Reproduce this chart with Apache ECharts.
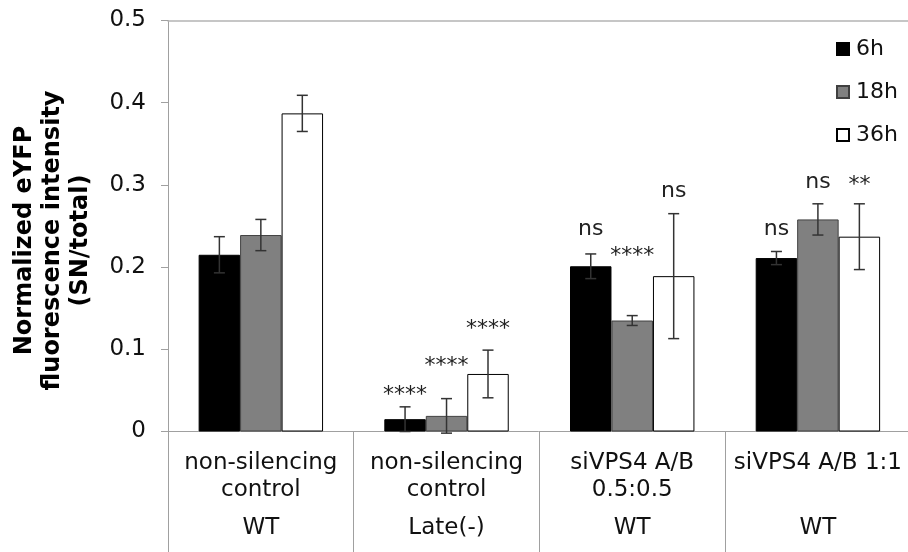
<!DOCTYPE html>
<html>
<head>
<meta charset="utf-8">
<script src="https://cdn.jsdelivr.net/npm/echarts@6/dist/echarts.min.js"></script>
<style>
  html, body { margin: 0; padding: 0; background: #fff; }
  #chart { width: 908px; height: 552px; }
</style>
</head>
<body>
<div id="chart"></div>
<script>
// Condition labels (first level) and cell line groups (second level)
const conditions = ['non-silencing\ncontrol', 'non-silencing\ncontrol', 'siVPS4 A/B\n0.5:0.5', 'siVPS4 A/B 1:1'];
const cellLines = ['WT', 'Late(-)', 'WT', 'WT'];
const timePoints = ['6h', '18h', '36h'];

// Mean normalized eYFP fluorescence (SN/total)
const mean6h  = [0.215, 0.015, 0.201, 0.211];
const mean18h = [0.239, 0.019, 0.135, 0.258];
const mean36h = [0.387, 0.070, 0.189, 0.237];

// Error (± value)
const err6h  = [0.022, 0.015, 0.015, 0.008];
const err18h = [0.019, 0.021, 0.006, 0.019];
const err36h = [0.022, 0.029, 0.076, 0.040];

// Significance marks and the axis height they sit at
const sig6h  = ['', '****', 'ns', 'ns'];
const sig18h = ['', '****', '****', 'ns'];
const sig36h = ['', '****', 'ns', '**'];
const sigAt6h  = [null, 0.044, 0.246, 0.246];
const sigAt18h = [null, 0.079, 0.213, 0.303];
const sigAt36h = [null, 0.124, 0.292, 0.300];

const yTicks = [0, 0.1, 0.2, 0.3, 0.4, 0.5];

const FONT = '"DejaVu Sans", Verdana, sans-serif';
const AXIS_GRAY = '#a0a0a0';
const CAT_GAP = 0.33;

const means = [mean6h, mean18h, mean36h];
const errs = [err6h, err18h, err36h];
const sigs = [sig6h, sig18h, sig36h];
const sigAts = [sigAt6h, sigAt18h, sigAt36h];
const barStyles = [
  { color: '#000000', borderColor: '#000000', borderWidth: 1 },
  { color: '#808080', borderColor: '#404040', borderWidth: 1 },
  { color: '#ffffff', borderColor: '#000000', borderWidth: 1 }
];

function barCenter(api, cat, idx) {
  const catW = api.size([1, 0])[0];
  const barW = catW * (1 - CAT_GAP) / 3;
  return api.coord([cat, 0])[0] + (idx - 1) * barW;
}

function errorBarRenderer(idx) {
  return function (params, api) {
    const cat = api.value(0), v = api.value(1), e = api.value(2);
    const cx = barCenter(api, cat, idx);
    const yHi = api.coord([cat, v + e])[1];
    const yLo = api.coord([cat, v - e])[1];
    const half = 5.5;
    const style = { stroke: '#333333', lineWidth: 1.5 };
    return {
      type: 'group',
      children: [
        { type: 'line', shape: { x1: cx, y1: yHi, x2: cx, y2: yLo }, style: style },
        { type: 'line', shape: { x1: cx - half, y1: yHi, x2: cx + half, y2: yHi }, style: style },
        { type: 'line', shape: { x1: cx - half, y1: yLo, x2: cx + half, y2: yLo }, style: style }
      ]
    };
  };
}

function sigRenderer(idx) {
  return function (params, api) {
    const cat = api.value(0), at = api.value(1);
    const text = sigs[idx][params.dataIndex];
    if (!text) return null;
    const cx = barCenter(api, cat, idx);
    const y = api.coord([cat, at])[1];
    return {
      type: 'text',
      x: cx, y: y,
      style: {
        text: text, fill: '#222', fontSize: 22, fontFamily: FONT,
        align: 'center', verticalAlign: 'middle'
      }
    };
  };
}

const series = [];
timePoints.forEach(function (name, i) {
  series.push({
    name: name,
    type: 'bar',
    data: means[i],
    barGap: '0%',
    barCategoryGap: (CAT_GAP * 100) + '%',
    itemStyle: barStyles[i],
    emphasis: { disabled: true },
    z: 2
  });
});
timePoints.forEach(function (name, i) {
  series.push({
    type: 'custom',
    name: 'err-' + name,
    renderItem: errorBarRenderer(i),
    data: means[i].map(function (v, k) { return [k, v, errs[i][k]]; }),
    z: 3,
    silent: true
  });
  series.push({
    type: 'custom',
    name: 'sig-' + name,
    renderItem: sigRenderer(i),
    data: sigAts[i].map(function (v, k) { return [k, v == null ? 0 : v]; }),
    z: 4,
    silent: true
  });
});

const chart = echarts.init(document.getElementById('chart'), null, { renderer: 'canvas' });
chart.setOption({
  animation: false,
  backgroundColor: '#ffffff',
  textStyle: { fontFamily: FONT },
  grid: {
    left: 168, top: 20.5, width: 742.75, height: 411,
    containLabel: false, outerBoundsMode: 'none'
  },
  legend: {
    data: timePoints,
    orient: 'vertical',
    left: 836,
    top: 38,
    padding: 0,
    itemWidth: 12,
    itemHeight: 12,
    itemGap: 21,
    icon: 'rect',
    selectedMode: false,
    textStyle: { fontSize: 22, color: '#111', fontFamily: FONT, padding: [0, 0, 0, 2] }
  },
  xAxis: [
    {
      type: 'category',
      data: conditions.map(function (c, i) { return { value: c + '|' + i }; }),
      position: 'bottom',
      axisLine: { lineStyle: { color: AXIS_GRAY, width: 1 } },
      axisTick: { show: true, interval: 0, length: 121, alignWithLabel: false, lineStyle: { color: AXIS_GRAY } },
      axisLabel: {
        interval: 0,
        margin: 18,
        formatter: function (val, idx) {
          const lines = conditions[idx].split('\n');
          if (lines.length < 2) lines.push(' ');
          return lines.map(function (l) { return '{a|' + l + '}'; }).join('\n') + '\n{b|' + cellLines[idx] + '}';
        },
        rich: {
          a: { fontSize: 23, lineHeight: 27, color: '#111', fontFamily: FONT, align: 'center' },
          b: { fontSize: 23, lineHeight: 49, color: '#111', fontFamily: FONT, align: 'center' }
        }
      },
      splitLine: { show: false }
    },
    {
      type: 'category',
      data: conditions,
      position: 'top',
      axisLine: { show: true, lineStyle: { color: '#b4b4b4', width: 1.5 } },
      axisTick: { show: false },
      axisLabel: { show: false },
      splitLine: { show: false }
    }
  ],
  yAxis: {
    type: 'value',
    min: yTicks[0],
    max: yTicks[yTicks.length - 1],
    interval: 0.1,
    axisLine: { show: true, lineStyle: { color: AXIS_GRAY, width: 1 } },
    axisTick: { show: true, length: 7, lineStyle: { color: AXIS_GRAY } },
    axisLabel: {
      margin: 22, fontSize: 23, color: '#111', fontFamily: FONT,
      formatter: function (v) { return String(Math.round(v * 10) / 10); }
    },
    splitLine: { show: false }
  },
  graphic: [
    {
      type: 'text',
      x: 53,
      y: 240.5,
      rotation: Math.PI / 2,
      style: {
        text: 'Normalized eYFP\nfluorescence intensity\n(SN/total)',
        fontSize: 24,
        fontWeight: 'bold',
        fontFamily: FONT,
        lineHeight: 28,
        fill: '#000',
        align: 'center',
        verticalAlign: 'middle'
      }
    }
  ],
  series: series
});
</script>
</body>
</html>
